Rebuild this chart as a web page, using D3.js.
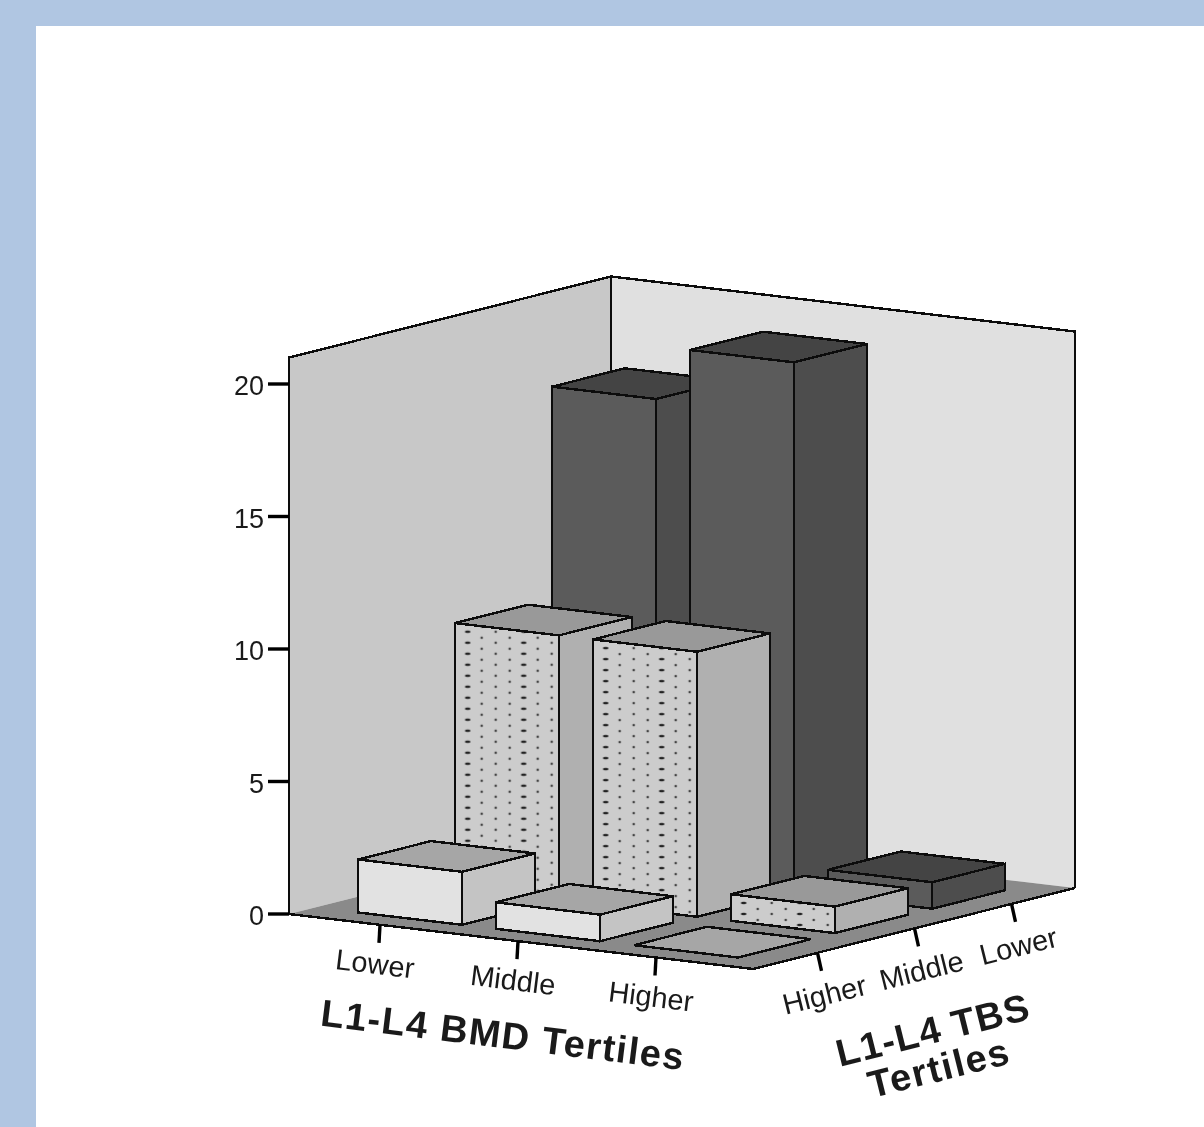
<!DOCTYPE html>
<html>
<head>
<meta charset="utf-8">
<script src="https://cdn.jsdelivr.net/npm/d3@7"></script>
<style>
html,body{margin:0;padding:0;background:#b0c6e2;overflow:hidden}
svg{display:block;filter:blur(0.5px)}
text{font-family:"Liberation Sans",Arial,sans-serif;fill:#1a1a1a}
</style>
</head>
<body>
<script>
// ---- data ----
const bmdCategories = ["Lower", "Middle", "Higher"];
const tbsCategories = ["Lower", "Middle", "Higher"]; // back to front
const valuesTbsLower = [18, 20, 1];
const valuesTbsMiddle = [10, 10, 1];
const valuesTbsHigher = [2, 1, 0];
const yTicks = [0, 5, 10, 15, 20];
const bmdTitle = "L1-L4 BMD Tertiles";
const tbsTitleLines = ["L1-L4 TBS", "Tertiles"];

const seriesByTbs = [valuesTbsLower, valuesTbsMiddle, valuesTbsHigher];

// ---- styles ----
const faceStyles = [
  {front:"#5b5b5b", side:"#4d4d4d", top:"#444444"},
  {front:"#cccccc", side:"#b0b0b0", top:"#999999", dotted:true},
  {front:"#e2e2e2", side:"#c4c4c4", top:"#a6a6a6"}
];
const W = 1204, H = 1127;
const LINE = "#0c0c0c";
const SW = 2.4;

// ---- oblique projection built from D3 scales ----
const slopeU = 55 / 464, slopeV = -81 / 322;
const floorU = 464, floorV = 322;
const origin = [289, 914];
const yScale = d3.scaleLinear().domain([0, 21]).range([0, 556.5]);
const uScale = d3.scaleBand().domain(bmdCategories).range([36, 36 + 138 * 3 - 34])
  .paddingInner(34 / 138).paddingOuter(0);
const vScale = d3.scaleBand().domain(tbsCategories.slice().reverse()).range([33, 33 + 97 * 3 - 24])
  .paddingInner(24 / 97).paddingOuter(0);

function project(u, v, val) {
  return [origin[0] + u + v,
          origin[1] + u * slopeU + v * slopeV - yScale(val)];
}
const pts = a => a.map(p => p.join(",")).join(" ");

const svg = d3.select("body").append("svg").attr("width", W).attr("height", H);
const defs = svg.append("defs");

svg.append("rect").attr("x", 36).attr("y", 26).attr("width", W - 36).attr("height", H - 26).attr("fill", "#fff");

const chart = svg.append("g");
const maxVal = yScale.domain()[1];

// walls
chart.append("polygon").attr("points", pts([project(0,0,0), project(0,0,maxVal), project(0,floorV,maxVal), project(0,floorV,0)]))
  .attr("fill", "#c8c8c8");
chart.append("polygon").attr("points", pts([project(0,floorV,0), project(0,floorV,maxVal), project(floorU,floorV,maxVal), project(floorU,floorV,0)]))
  .attr("fill", "#e0e0e0");
// floor
chart.append("polygon").attr("points", pts([project(0,0,0), project(floorU,0,0), project(floorU,floorV,0), project(0,floorV,0)]))
  .attr("fill", "#8a8a8a");
// wall + floor outlines
const outline = d3.line();
const edge = (a) => chart.append("path").attr("d", outline(a)).attr("fill","none").attr("stroke",LINE)
  .attr("stroke-width",SW).attr("shape-rendering","crispEdges");
edge([project(0,0,0), project(0,0,maxVal), project(0,floorV,maxVal), project(floorU,floorV,maxVal), project(floorU,floorV,0)]);
edge([project(0,floorV,0), project(0,floorV,maxVal)]);
edge([project(0,0,0), project(floorU,0,0), project(floorU,floorV,0)]);

// value axis ticks
const yAxisG = chart.append("g");
yTicks.forEach(t => {
  const p = project(0,0,t);
  yAxisG.append("line").attr("x1",p[0]-21).attr("x2",p[0]).attr("y1",p[1]).attr("y2",p[1])
    .attr("stroke","#000").attr("stroke-width",3.4);
  yAxisG.append("text").attr("x",p[0]-25).attr("y",p[1]+11).attr("text-anchor","end")
    .attr("font-size",27).text(t);
});

// bars, back row to front row, left to right
const barsLayer = chart.append("g").attr("transform","translate(0,2.5)");
tbsCategories.forEach((tbs, r) => {
  const style = faceStyles[r];
  bmdCategories.forEach((bmd, c) => {
    const val = seriesByTbs[r][c];
    const u0 = uScale(bmd), u1 = u0 + uScale.bandwidth();
    const v0 = vScale(tbs), v1 = v0 + vScale.bandwidth();
    const g = barsLayer.append("g").attr("stroke",LINE).attr("stroke-width",SW).attr("stroke-linejoin","miter")
      .attr("shape-rendering","crispEdges");
    if (val > 0) {
      const front = [project(u0,v0,0), project(u1,v0,0), project(u1,v0,val), project(u0,v0,val)];
      g.append("polygon").attr("points", pts(front)).attr("fill", style.front);
      if (style.dotted) {
        const id = `dots-${r}-${c}`;
        const tl = front[3];
        const pat = defs.append("pattern").attr("id", id).attr("patternUnits","userSpaceOnUse")
          .attr("width",56).attr("height",22)
          .attr("patternTransform",`translate(${tl[0]+12.7},${tl[1]+8.7})`);
        [0,11,22].forEach(y => [0,56].forEach(x =>
          pat.append("ellipse").attr("cx",x).attr("cy",y).attr("rx",2.8).attr("ry",1.2).attr("fill","#222")));
        [[14,6],[14,17],[28,0],[28,11],[28,22],[42,6],[42,17]].forEach(d =>
          pat.append("circle").attr("cx",d[0]).attr("cy",d[1]).attr("r",1.3).attr("fill","#444"));
        g.append("polygon").attr("points", pts(front)).attr("fill", `url(#${id})`).attr("stroke","none");
        g.append("polygon").attr("points", pts(front)).attr("fill", "none");
      }
      g.append("polygon").attr("points", pts([project(u1,v0,0), project(u1,v1,0), project(u1,v1,val), project(u1,v0,val)]))
        .attr("fill", style.side);
    }
    g.append("polygon").attr("points", pts([project(u0,v0,val), project(u1,v0,val), project(u1,v1,val), project(u0,v1,val)]))
      .attr("fill", val > 0 ? style.top : "#a6a6a6");
  });
});

// category ticks + labels
bmdCategories.forEach(bmd => {
  const p = project(uScale(bmd) + uScale.bandwidth()/2 + 3, 0, 0);
  chart.append("line").attr("x1",p[0]).attr("y1",p[1]).attr("x2",p[0]-1).attr("y2",p[1]+18)
    .attr("stroke","#000").attr("stroke-width",3.4);
  chart.append("text").attr("transform",`translate(${p[0]-5},${p[1]+39}) rotate(7)`)
    .attr("text-anchor","middle").attr("dominant-baseline","central").attr("font-size",29).text(bmd);
});
tbsCategories.forEach(tbs => {
  const p = project(floorU, vScale(tbs) + vScale.bandwidth()/2 - 5, 0);
  chart.append("line").attr("x1",p[0]).attr("y1",p[1]).attr("x2",p[0]+4).attr("y2",p[1]+18)
    .attr("stroke","#000").attr("stroke-width",3.4);
  chart.append("text").attr("transform",`translate(${p[0]+7},${p[1]+42}) rotate(-14)`)
    .attr("text-anchor","middle").attr("dominant-baseline","central").attr("font-size",29).text(tbs);
});

// axis titles
chart.append("text").attr("transform","translate(503,1035) rotate(7)")
  .attr("text-anchor","middle").attr("dominant-baseline","central")
  .attr("font-size",38).attr("font-weight","bold").attr("letter-spacing",1.4).text(bmdTitle);
[[933,1030],[939,1068]].forEach((c,i) => {
  chart.append("text").attr("transform",`translate(${c[0]},${c[1]}) rotate(-14)`)
    .attr("text-anchor","middle").attr("dominant-baseline","central")
    .attr("font-size",38).attr("font-weight","bold").attr("letter-spacing",i ? 1.6 : 1.2).text(tbsTitleLines[i]);
});
</script>
</body>
</html>
